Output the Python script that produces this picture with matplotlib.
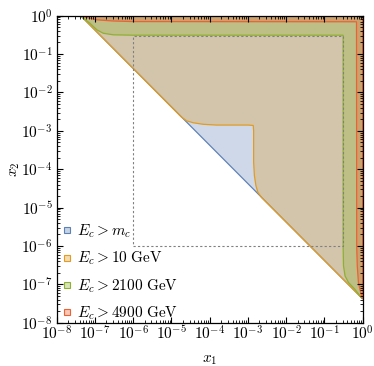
import numpy as np
import matplotlib
matplotlib.use("Agg")
import matplotlib.pyplot as plt
from matplotlib.patches import Polygon
from matplotlib.lines import Line2D
from matplotlib.ticker import LogLocator, FuncFormatter, NullFormatter

plt.rcParams['mathtext.fontset'] = 'cm'
plt.rcParams['font.family'] = 'serif'

# diagonal x1 * x2 = tau  (log10 tau)
log_tau = -7.375

# boundary curves, (log10 x1, log10 x2), upper-left diagonal end -> lower-right diagonal end
orange_lx = [-4.74, -4.60, -4.43, -4.17, -3.82, -3.00, -2.86, -2.85, -2.85, -2.83, -2.79, -2.74, -2.64]
orange_ly = [-2.64, -2.74, -2.79, -2.83, -2.85, -2.85, -2.86, -3.00, -3.82, -4.17, -4.43, -4.60, -4.74]

green_lx = [-7.33, -7.13, -6.95, -6.78, -6.52, -6.00, -0.51, -0.51, -0.50, -0.46, -0.37, -0.20, -0.045]
green_ly = [-0.045, -0.20, -0.37, -0.46, -0.50, -0.51, -0.51, -6.00, -6.52, -6.78, -6.95, -7.13, -7.33]

red_lx = [-7.365, -7.13, -6.95, -6.52, -6.00, -0.16, -0.155, -0.14, -0.11, -0.07, -0.01]
red_ly = [-0.01, -0.07, -0.11, -0.14, -0.155, -0.16, -6.00, -6.52, -6.95, -7.13, -7.365]

# dotted box
box_lo = -6.0
box_hi = -0.52

labels = [r"$E_c > m_c$", r"$E_c > 10\ \mathrm{GeV}$",
          r"$E_c > 2100\ \mathrm{GeV}$", r"$E_c > 4900\ \mathrm{GeV}$"]
colors = ['#5E81B5', '#E19C24', '#8FB032', '#EB6235']


def pts(lx, ly):
    return list(zip(10.0 ** np.array(lx), 10.0 ** np.array(ly)))


tau = 10.0 ** log_tau
corner = [(tau, 1.0), (1.0, 1.0), (1.0, tau)]

regions = [
    corner,
    corner + pts(orange_lx, orange_ly)[::-1],
    corner + pts(green_lx, green_ly)[::-1],
    corner + pts(red_lx, red_ly)[::-1],
]

fig = plt.figure(figsize=(3.74, 3.66), dpi=100)
ax = fig.add_axes([0.1516, 0.118, 0.818, 0.8393])
ax.set_xscale('log')
ax.set_yscale('log')
ax.set_xlim(1e-8, 1)
ax.set_ylim(1e-8, 1)

for poly, c in zip(regions, colors):
    ax.add_patch(Polygon(poly, closed=True, facecolor=c, alpha=0.3, edgecolor='none'))
    ax.add_patch(Polygon(poly, closed=True, facecolor='none', edgecolor=c, lw=0.9))

b0, b1 = 10.0 ** box_lo, 10.0 ** box_hi
ax.plot([b0, b1, b1, b0, b0], [b0, b0, b1, b1, b0], color='#808080',
        lw=0.8, linestyle=(0, (2, 2)))

fmt = FuncFormatter(lambda v, p: r"$10^{%d}$" % int(round(np.log10(v))))
for axis in (ax.xaxis, ax.yaxis):
    axis.set_major_locator(LogLocator(base=10, numticks=20))
    axis.set_minor_locator(LogLocator(base=10, subs=np.arange(2, 10), numticks=100))
    axis.set_major_formatter(fmt)
    axis.set_minor_formatter(NullFormatter())

ax.tick_params(which='both', direction='in', top=True, right=True, labelsize=11)
ax.tick_params(which='major', length=4, width=0.8)
ax.tick_params(which='minor', length=2, width=0.6)
ax.tick_params(axis='x', pad=1)
ax.tick_params(axis='y', pad=3)
for s in ax.spines.values():
    s.set_linewidth(0.9)

ax.set_xlabel(r"$x_1$", fontsize=11, labelpad=8)
ax.set_ylabel(r"$x_2$", fontsize=11, labelpad=-1)

handles = [Line2D([], [], marker='s', linestyle='none', markersize=4.5,
                  markerfacecolor=matplotlib.colors.to_rgba(c, 0.35),
                  markeredgecolor=c, markeredgewidth=0.8) for c in colors]
ax.legend(handles, labels, loc='lower left', bbox_to_anchor=(0.012, 0.0),
          frameon=False, fontsize=11, borderaxespad=0, borderpad=0.08,
          handlelength=0.7, handletextpad=0.3, labelspacing=0.62)

fig.savefig('out.png', dpi=100)
